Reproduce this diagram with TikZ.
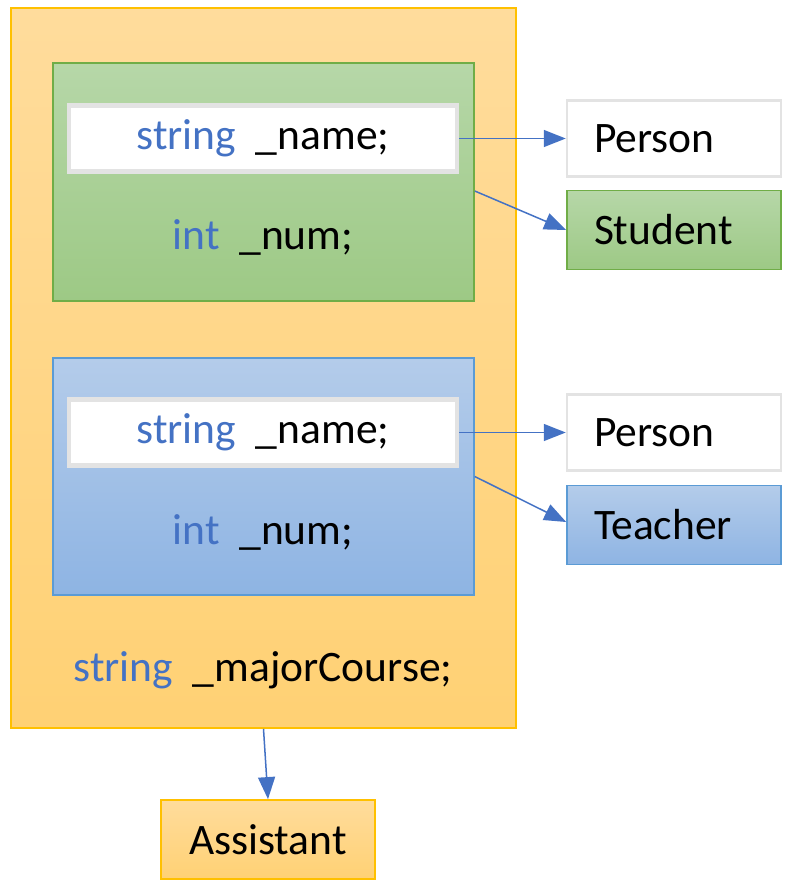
\documentclass[tikz,border=0pt]{standalone}
\usepackage{fontspec}
\setmainfont{Carlito}
\usepackage{tikz}
\usetikzlibrary{arrows.meta, positioning}
\definecolor{kwblue}{HTML}{4472C4}
\definecolor{orangeedge}{HTML}{FFC000}
\definecolor{greenedge}{HTML}{70AD47}
\definecolor{blueedge}{HTML}{5B9BD5}
\definecolor{greyedge}{HTML}{E3E3E3}

\begin{document}
\begin{tikzpicture}[>={Triangle[length=22pt,width=17pt]},x=1pt,y=-1pt,font=\fontsize{43.5}{50}\selectfont]
	\tikzset{every node/.style={inner sep=0pt},
		orangebox/.style={draw=orangeedge, line width=1.8pt, shade, top color={rgb,255:red,255;green,220;blue,156}, bottom color={rgb,255:red,255;green,209;blue,116}},
		greenbox/.style={draw=greenedge, line width=1.6pt, shade, top color={rgb,255:red,182;green,215;blue,168}, bottom color={rgb,255:red,157;green,201;blue,133}},
		bluebox/.style={draw=blueedge, line width=1.6pt, shade, top color={rgb,255:red,180;green,204;blue,234}, bottom color={rgb,255:red,142;green,180;blue,227}},
		fieldbox/.style={draw=greyedge, line width=4.5pt, fill=white, minimum width=388pt, minimum height=66pt},
		classbox/.style={minimum width=214pt, minimum height=79pt, text width=160pt, align=left},
		link/.style={->, draw=kwblue, line width=1.5pt, fill=kwblue}}
	\useasboundingbox (0,0) rectangle (793,892);
	\node[orangebox, minimum width=505pt, minimum height=720pt] (assistantobj) at (263.5,368) {};
	\node[greenbox, minimum width=421pt, minimum height=238pt] (studentobj) at (263.5,182) {};
	\node[fieldbox] (sname) at (263,138.5) {\textcolor{kwblue}{string}~~\_name;};
	\node (snum) at (263,237) {\textcolor{kwblue}{int}~~\_num;};
	\node[bluebox, minimum width=421pt, minimum height=237pt] (teacherobj) at (263.5,476.5) {};
	\node[fieldbox] (tname) at (263,432.5) {\textcolor{kwblue}{string}~~\_name;};
	\node (tnum) at (263,532) {\textcolor{kwblue}{int}~~\_num;};
	\node (major) at (263,670) {\textcolor{kwblue}{string}~~\_majorCourse;};
	\node[classbox, draw=greyedge, line width=2.5pt, fill=white, minimum height=76pt] (person1) at (674,138.5) {Person};
	\node[classbox, greenbox] (student) at (674,230) {Student};
	\node[classbox, draw=greyedge, line width=2.5pt, fill=white, minimum height=76pt] (person2) at (674,432.5) {Person};
	\node[classbox, bluebox] (teacher) at (674,525) {Teacher};
	\node[classbox, orangebox, align=center] (assistant) at (268,839.5) {Assistant};
	\path
		(sname.east)

			edge [link] (person1.west)
		([yshift=-9pt]studentobj.east)

			edge [link] (student.west)
		(tname.east)

			edge [link] (person2.west)
		(teacherobj.east)

			edge [link] ([yshift=3pt]teacher.west)
		(assistantobj.south)

			edge [link] (assistant.north);
\end{tikzpicture}
\end{document}
